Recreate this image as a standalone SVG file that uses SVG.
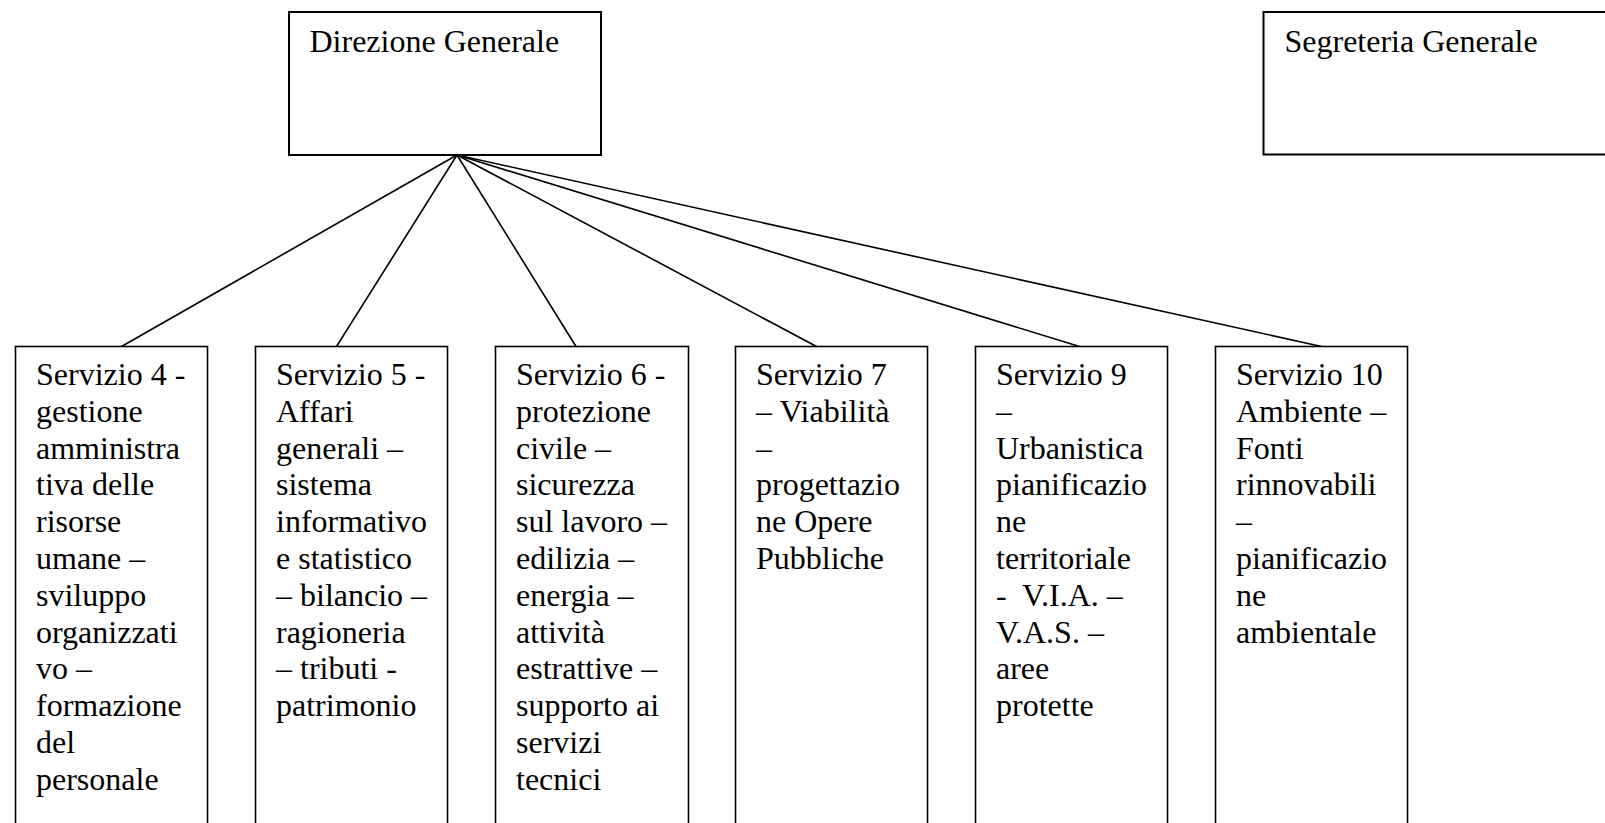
<svg xmlns="http://www.w3.org/2000/svg" width="1605" height="823" viewBox="0 0 1605 823">
<style>
.box{fill:#fff;stroke:#000;stroke-width:2}
.sbox{fill:#fff;stroke:#000;stroke-width:1.6}
.t{font-family:"Liberation Serif","Times New Roman",serif;font-size:32px;fill:#000;white-space:pre}
.c{stroke:#000;stroke-width:1.6;fill:none}
</style>
<rect width="1605" height="823" fill="#fff"/>
<g id="connectors">
<line class="c" x1="457" y1="155" x2="121.5" y2="346.5"/>
<line class="c" x1="457" y1="155" x2="336.5" y2="346.5"/>
<line class="c" x1="457" y1="155" x2="576" y2="346.5"/>
<line class="c" x1="457" y1="155" x2="816.5" y2="346.5"/>
<line class="c" x1="457" y1="155" x2="1079.5" y2="346.5"/>
<line class="c" x1="457" y1="155" x2="1321.5" y2="346.5"/>
</g>
<g id="direzione">
<rect class="box" x="289" y="12" width="312" height="143"/>
<text class="t" x="309.5" y="52">Direzione Generale</text>
</g>
<g id="segreteria">
<rect class="box" x="1263.5" y="12" width="360" height="142.5"/>
<text class="t" x="1284.5" y="52">Segreteria Generale</text>
</g>
<g id="servizio4">
<rect class="sbox" x="15.5" y="346.5" width="192" height="500"/>
<text class="t" y="385"><tspan x="36">Servizio 4 -</tspan><tspan x="36" dy="36.8">gestione</tspan><tspan x="36" dy="36.8">amministra</tspan><tspan x="36" dy="36.8">tiva delle</tspan><tspan x="36" dy="36.8">risorse</tspan><tspan x="36" dy="36.8">umane –</tspan><tspan x="36" dy="36.8">sviluppo</tspan><tspan x="36" dy="36.8">organizzati</tspan><tspan x="36" dy="36.8">vo –</tspan><tspan x="36" dy="36.8">formazione</tspan><tspan x="36" dy="36.8">del</tspan><tspan x="36" dy="36.8">personale</tspan></text>
</g>
<g id="servizio5">
<rect class="sbox" x="255.5" y="346.5" width="192" height="500"/>
<text class="t" y="385"><tspan x="276">Servizio 5 -</tspan><tspan x="276" dy="36.8">Affari</tspan><tspan x="276" dy="36.8">generali –</tspan><tspan x="276" dy="36.8">sistema</tspan><tspan x="276" dy="36.8">informativo</tspan><tspan x="276" dy="36.8">e statistico</tspan><tspan x="276" dy="36.8">– bilancio –</tspan><tspan x="276" dy="36.8">ragioneria</tspan><tspan x="276" dy="36.8">– tributi -</tspan><tspan x="276" dy="36.8">patrimonio</tspan></text>
</g>
<g id="servizio6">
<rect class="sbox" x="495.5" y="346.5" width="193" height="500"/>
<text class="t" y="385"><tspan x="516">Servizio 6 -</tspan><tspan x="516" dy="36.8">protezione</tspan><tspan x="516" dy="36.8">civile –</tspan><tspan x="516" dy="36.8">sicurezza</tspan><tspan x="516" dy="36.8">sul lavoro –</tspan><tspan x="516" dy="36.8">edilizia –</tspan><tspan x="516" dy="36.8">energia –</tspan><tspan x="516" dy="36.8">attività</tspan><tspan x="516" dy="36.8">estrattive –</tspan><tspan x="516" dy="36.8">supporto ai</tspan><tspan x="516" dy="36.8">servizi</tspan><tspan x="516" dy="36.8">tecnici</tspan></text>
</g>
<g id="servizio7">
<rect class="sbox" x="735.5" y="346.5" width="192" height="500"/>
<text class="t" y="385"><tspan x="756">Servizio 7</tspan><tspan x="756" dy="36.8">– Viabilità</tspan><tspan x="756" dy="36.8">–</tspan><tspan x="756" dy="36.8">progettazio</tspan><tspan x="756" dy="36.8">ne Opere</tspan><tspan x="756" dy="36.8">Pubbliche</tspan></text>
</g>
<g id="servizio9">
<rect class="sbox" x="975.5" y="346.5" width="192" height="500"/>
<text class="t" y="385"><tspan x="996">Servizio 9</tspan><tspan x="996" dy="36.8">–</tspan><tspan x="996" dy="36.8">Urbanistica</tspan><tspan x="996" dy="36.8">pianificazio</tspan><tspan x="996" dy="36.8">ne</tspan><tspan x="996" dy="36.8">territoriale</tspan><tspan x="996" dy="36.8">-  V.I.A. –</tspan><tspan x="996" dy="36.8">V.A.S. –</tspan><tspan x="996" dy="36.8">aree</tspan><tspan x="996" dy="36.8">protette</tspan></text>
</g>
<g id="servizio10">
<rect class="sbox" x="1215.5" y="346.5" width="192" height="500"/>
<text class="t" y="385"><tspan x="1236">Servizio 10</tspan><tspan x="1236" dy="36.8">Ambiente –</tspan><tspan x="1236" dy="36.8">Fonti</tspan><tspan x="1236" dy="36.8">rinnovabili</tspan><tspan x="1236" dy="36.8">–</tspan><tspan x="1236" dy="36.8">pianificazio</tspan><tspan x="1236" dy="36.8">ne</tspan><tspan x="1236" dy="36.8">ambientale</tspan></text>
</g>
</svg>
